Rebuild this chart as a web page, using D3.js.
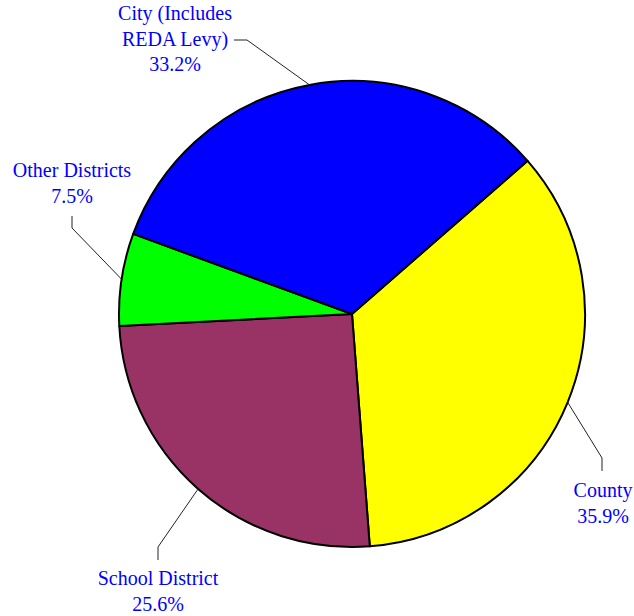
<!DOCTYPE html>
<html lang="en">
<head>
    <meta charset="UTF-8">
    <title>Tax levy shares</title>
    <script src="https://d3js.org/d3.v7.min.js"></script>
    <style>
        body {margin: 0; background: #fff;}
        text {
            font-family: "Liberation Serif", "Times New Roman", serif;
            font-size: 20px;
            fill: #0000ff;
        }
    </style>
</head>
<body>
<script>
    const width = 634;
    const height = 616;

    // slices, clockwise from the County / City boundary
    const categories = ["County", "School District", "Other Districts", "City (Includes\nREDA Levy)"];
    const shares     = [35.2, 25.4, 6.4, 33.0];   // angle shares as drawn
    const pctLabels  = ["35.9%", "25.6%", "7.5%", "33.2%"];
    const colors     = ["#ffff00", "#993366", "#00ff00", "#0000ff"];

    // where each label sits: elbow of the leader, end of the leader, text centre and first baseline
    const labelLayout = [
        {elbow: [602, 458], end: [602, 471], x: 603, y: 497},
        {elbow: [158, 547], end: [158, 560], x: 158, y: 585},
        {elbow: [72, 228],  end: [72, 216],  x: 72,  y: 177},
        {elbow: [247, 40],  end: [234, 40],  x: 175, y: 20}
    ];

    const cx = 352, cy = 314, r = 233;
    const startAngle = 48.9 * Math.PI / 180;

    const svg = d3.select("body").append("svg")
            .attr("width", width).attr("height", height);

    const pie = d3.pie()
            .sort(null)
            .startAngle(startAngle)
            .endAngle(startAngle + 2 * Math.PI)
            .value(d => d);

    const arc = d3.arc().innerRadius(0).outerRadius(r);

    const arcs = pie(shares);

    const g = svg.append("g").attr("transform", `translate(${cx},${cy})`);

    g.selectAll("path.slice")
            .data(arcs)
            .enter()
            .append("path")
            .attr("class", "slice")
            .attr("d", arc)
            .style("fill", (d, i) => colors[i])
            .style("stroke", "black")
            .style("stroke-width", 2)
            .style("stroke-linejoin", "round");

    // leader lines from the middle of each slice's rim
    const rim = d3.arc().innerRadius(r).outerRadius(r);
    svg.selectAll("polyline.leader")
            .data(arcs)
            .enter()
            .append("polyline")
            .attr("class", "leader")
            .attr("points", (d, i) => {
                const c = rim.centroid(d);
                const L = labelLayout[i];
                return [[c[0] + cx, c[1] + cy], L.elbow, L.end].map(p => p.join(",")).join(" ");
            })
            .style("fill", "none")
            .style("stroke", "#222")
            .style("stroke-width", 1);

    const labels = svg.selectAll("text.label")
            .data(arcs)
            .enter()
            .append("text")
            .attr("class", "label")
            .attr("text-anchor", "middle")
            .attr("transform", (d, i) => `translate(${labelLayout[i].x},${labelLayout[i].y})`);

    labels.each(function(d, i) {
        const lines = categories[i].split("\n").concat([pctLabels[i]]);
        d3.select(this).selectAll("tspan")
                .data(lines)
                .enter()
                .append("tspan")
                .attr("x", 0)
                .attr("dy", (t, j) => j === 0 ? 0 : 25.5)
                .text(t => t);
    });
</script>
</body>
</html>
